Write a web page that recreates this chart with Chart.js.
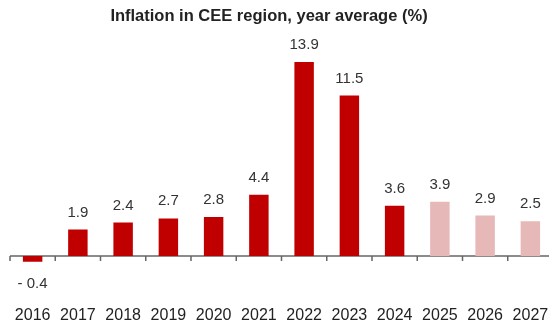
<!DOCTYPE html>
<html>
<head>
<meta charset="utf-8">
<script src="https://cdn.jsdelivr.net/npm/chart.js@4"></script>
<style>
    html, body { margin: 0; padding: 0; background: #fff; overflow: hidden; }
    .chart-box { width: 553px; height: 325px; }
</style>
</head>
<body>
<div class="chart-box"><canvas id="inflationChart"></canvas></div>
<script>
// Data
const years = ['2016', '2017', '2018', '2019', '2020', '2021', '2022', '2023', '2024', '2025', '2026', '2027'];
const inflation = [-0.4, 1.9, 2.4, 2.7, 2.8, 4.4, 13.9, 11.5, 3.6, 3.9, 2.9, 2.5];
const forecastFrom = '2025';
const titleText = 'Inflation in CEE region, year average (%)';

const actualColor = '#C00000';
const forecastColor = '#E6B8B7';

// Title, value labels above / below the bars, plus the zero axis with its ticks
const barLabels = {
    id: 'barLabels',
    afterDatasetsDraw(chart) {
        const ctx = chart.ctx;
        const meta = chart.getDatasetMeta(0);
        ctx.save();
        ctx.font = 'bold 16.5px "Liberation Sans", Arial, sans-serif';
        ctx.fillStyle = '#222';
        ctx.textAlign = 'center';
        ctx.textBaseline = 'middle';
        ctx.fillText(titleText, 269, 16);

        ctx.font = '15px "Liberation Sans", Arial, sans-serif';
        ctx.fillStyle = '#333';
        meta.data.forEach((bar, i) => {
            const v = inflation[i];
            if (v < 0) {
                ctx.textBaseline = 'top';
                ctx.fillText('- ' + Math.abs(v).toFixed(1), bar.x, bar.y + 15);
            } else {
                ctx.textBaseline = 'alphabetic';
                ctx.fillText(v.toFixed(1), bar.x, bar.y - 13);
            }
        });
        ctx.restore();
    },
    beforeDatasetsDraw(chart) {
        const ctx = chart.ctx;
        const x = chart.scales.x;
        const y0 = chart.scales.y.getPixelForValue(0);
        const step = x.getPixelForValue(1) - x.getPixelForValue(0);
        ctx.save();
        ctx.strokeStyle = '#666';
        ctx.lineWidth = 1.5;
        ctx.beginPath();
        ctx.moveTo(chart.chartArea.left, y0);
        ctx.lineTo(chart.chartArea.right, y0);
        for (let i = 0; i <= years.length; i++) {
            const px = x.getPixelForValue(0) - step / 2 + i * step;
            ctx.moveTo(px, y0);
            ctx.lineTo(px, y0 + 5);
        }
        ctx.stroke();
        ctx.restore();
    }
};

const chart = new Chart(document.getElementById('inflationChart'), {
    type: 'bar',
    data: {
        labels: years,
        datasets: [{
            data: inflation,
            backgroundColor: years.map(y => y >= forecastFrom ? forecastColor : actualColor),
            barPercentage: 0.43,
            categoryPercentage: 1
        }]
    },
    options: {
        responsive: true,
        maintainAspectRatio: false,
        animation: false,
        layout: { padding: { left: 10, right: 0, top: 60.6, bottom: 0 } },
        scales: {
            x: {
                grid: { display: false },
                border: { display: false },
                afterFit: scale => { scale.height = 27; },
                ticks: {
                    color: '#222',
                    padding: 0,
                    font: { family: '"Liberation Sans", Arial, sans-serif', size: 16 }
                }
            },
            y: {
                display: false,
                min: -3,
                max: 14
            }
        },
        plugins: {
            legend: { display: false },
            tooltip: { enabled: false },
            title: { display: false }
        }
    },
    plugins: [barLabels]
});
</script>
</body>
</html>
